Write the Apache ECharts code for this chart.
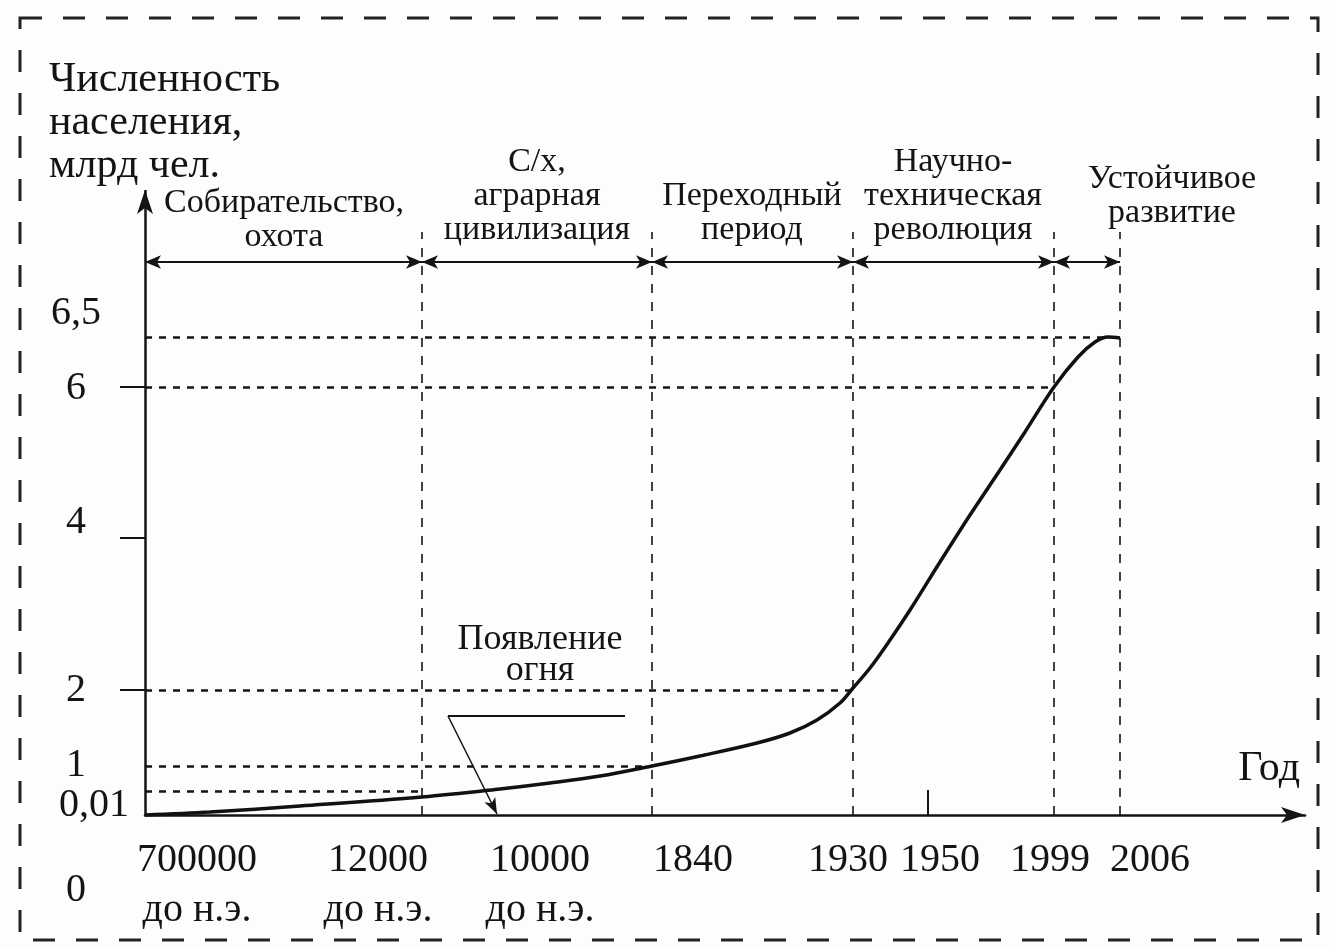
<!DOCTYPE html>
<html><head><meta charset="utf-8">
<script src="https://cdn.jsdelivr.net/npm/echarts@6/dist/echarts.min.js"></script>
<style>html,body{margin:0;padding:0;background:#fdfdfd}#c{width:1330px;height:949px}</style>
</head><body><div id="c"></div>
<script>
// The original figure is schematic: both axes use non-proportional "position" units.
const xTickPos = [5.2, 23.3, 39.5, 54.8, 70.3, 79.5, 90.5, 100.5];
const xTickLabels = ['700000\nдо н.э.', '12000\nдо н.э.', '10000\nдо н.э.', '1840', '1930', '1950', '1999', '2006'];
const xMarkTickPos = [78.3];
const yLabelPos = [50.2, 42.7, 29.3, 12.5, 5.0, 1.0, -7.5];
const yTickLabels = ['6,5', '6', '4', '2', '1', '0,01', '0'];
const yTickPos = [42.8, 27.7, 12.5];
const levelY = [47.8, 42.8, 12.5, 4.9, 2.4];
const levelXEnd = [95.9, 90.9, 70.8, 50.7, 27.7];
const eraBounds = [0, 27.7, 50.7, 70.8, 90.9, 97.5];
const eraNames = ['Собирательство,\nохота', 'С/х,\nаграрная\nцивилизация', 'Переходный\nпериод', 'Научно-\nтехническая\nреволюция', 'Устойчивое\nразвитие'];
const eraLabelX = [13.9, 39.2, 60.7, 80.8, 102.7];
const eraLabelY = [56.1, 56.8, 56.8, 56.8, 58.5];
const eraArrowY = 55.3;
const eraLineTop = 58.3;
const curveX = [0, 6.5, 15.5, 27.7, 35.5, 40.5, 45.5, 50.7, 55.5, 61.2, 64.5, 67.2, 69.5, 70.8, 72.5, 74.5, 76.5, 79.5, 82.5, 85.5, 88.0, 90.9, 93.3, 95.0, 96.3, 97.5];
const curveY = [0, 0.3, 0.9, 1.8, 2.6, 3.2, 3.9, 4.9, 5.9, 7.2, 8.2, 9.5, 11.2, 12.7, 14.7, 17.5, 20.5, 25.3, 30.0, 34.5, 38.3, 42.8, 45.8, 47.3, 47.8, 47.7];
const fireNote = [[48.0, 9.9], [30.3, 9.9], [35.2, 0.1]];
const fireLabel = 'Появление\nогня';
const fireLabelPos = [39.5, 16.0];
const yAxisMin = -10;
const yAxisTop = 62.5;

const FONT = '"Liberation Serif", "DejaVu Serif", serif';
const INK = '#141414';
const chart = echarts.init(document.getElementById('c'));

const levelLines = levelY.map((y, i) => [{coord: [0, y]}, {coord: [levelXEnd[i], y]}]);
const eraLines = eraBounds.slice(1).map(b => [{coord: [b, 0]}, {coord: [b, eraLineTop]}]);
const eraArrows = eraBounds.slice(0, -1).map((b, i) => [{coord: [b, eraArrowY]}, {coord: [eraBounds[i + 1], eraArrowY]}]);

function helper(name, markLine) {
  return {type: 'line', name, data: [], silent: true, markLine: Object.assign({silent: true, animation: false, label: {show: false}}, markLine)};
}

// grid: 725 px tall for 72.5 units; the year axis sits at value 0 (10 units above the grid bottom)
const gridTop = 190, gridBottom = 34;
const pxPerUnit = (949 - gridTop - gridBottom) / (yAxisTop - yAxisMin);

chart.setOption({
  animation: false,
  backgroundColor: '#fdfdfd',
  textStyle: {fontFamily: FONT, color: INK},
  title: {
    text: 'Численность\nнаселения,\nмлрд чел.', left: 44, top: 53,
    textStyle: {fontFamily: FONT, fontSize: 42, lineHeight: 43, fontWeight: 'normal', color: INK}
  },
  grid: {left: 145, right: 25, top: gridTop, bottom: gridBottom, containLabel: false, outerBoundsMode: 'none'},
  xAxis: {
    type: 'value', min: 0, max: 116, splitLine: {show: false},
    position: 'bottom', offset: yAxisMin * pxPerUnit,
    axisLine: {onZero: false, symbol: ['none', 'arrow'], symbolSize: [12, 24], lineStyle: {color: INK, width: 2.5}},
    axisTick: {show: true, customValues: xMarkTickPos, inside: true, length: 25, lineStyle: {color: INK, width: 2}},
    axisLabel: {
      customValues: xTickPos, formatter: v => { const i = xTickPos.indexOf(v); return i < 0 ? '' : xTickLabels[i]; },
      fontSize: 40, lineHeight: 50, margin: 20, color: INK, fontFamily: FONT
    }
  },
  yAxis: {
    type: 'value', min: yAxisMin, max: yAxisTop, splitLine: {show: false},
    axisLine: {show: false},
    axisTick: {show: true, customValues: yTickPos, length: 25, lineStyle: {color: INK, width: 2}},
    axisLabel: {
      customValues: yLabelPos,
      formatter: v => { const i = yLabelPos.indexOf(v); if (i < 0) return ''; const t = yTickLabels[i]; return t === '0,01' ? '{s|' + t + '}' : t; },
      rich: {s: {fontSize: 40, fontFamily: FONT, color: INK, padding: [0, 0, 0, 36]}},
      align: 'center', margin: 69, fontSize: 40, color: INK, fontFamily: FONT
    }
  },
  graphic: [
    {type: 'rect', shape: {x: 20, y: 18, width: 1298, height: 922}, style: {fill: 'none', stroke: '#222', lineWidth: 3, lineDash: [22, 21]}, silent: true},
    {type: 'text', right: 30, top: 748, style: {text: 'Год', fontSize: 42, fontFamily: FONT, fill: INK}}
  ],
  series: [
    helper('yaxis', {symbol: ['none', 'arrow'], symbolSize: [12, 24], lineStyle: {color: INK, width: 2.5, type: 'solid'},
      data: [[{coord: [0, 0]}, {coord: [0, yAxisTop]}]]}),
    helper('levels', {symbol: ['none', 'none'], lineStyle: {color: INK, width: 2.5, type: [7, 7]}, data: levelLines}),
    helper('eras', {symbol: ['none', 'none'], lineStyle: {color: INK, width: 1.6, type: [9, 9]}, data: eraLines}),
    helper('eraArrows', {symbol: ['arrow', 'arrow'], symbolSize: [10, 16], lineStyle: {color: INK, width: 2.2, type: 'solid'}, data: eraArrows}),
    helper('fireA', {symbol: ['none', 'none'], lineStyle: {color: INK, width: 2.2, type: 'solid'}, data: [[{coord: fireNote[0]}, {coord: fireNote[1]}]]}),
    helper('fireB', {symbol: ['none', 'arrow'], symbolSize: [9, 16], lineStyle: {color: INK, width: 1.6, type: 'solid'}, data: [[{coord: fireNote[1]}, {coord: fireNote[2]}]]}),
    {
      type: 'line', name: 'Численность населения', data: curveX.map((x, i) => [x, curveY[i]]),
      smooth: 0.35, showSymbol: false, lineStyle: {color: '#111', width: 3.5}, z: 5
    },
    {
      type: 'scatter', data: eraLabelX.map((x, i) => [x, eraLabelY[i]]), symbolSize: 0, silent: true,
      itemStyle: {opacity: 1},
      label: {show: true, position: 'top', distance: 0, opacity: 1, formatter: p => eraNames[p.dataIndex], fontSize: 34, lineHeight: 34, align: 'center', color: INK, fontFamily: FONT}
    },
    {
      type: 'scatter', data: [fireLabelPos], symbolSize: 0, silent: true,
      itemStyle: {opacity: 1},
      label: {show: true, position: 'inside', opacity: 1, formatter: fireLabel, fontSize: 36, lineHeight: 31, align: 'center', color: INK, fontFamily: FONT, textBorderWidth: 0}
    }
  ]
});
</script></body></html>
